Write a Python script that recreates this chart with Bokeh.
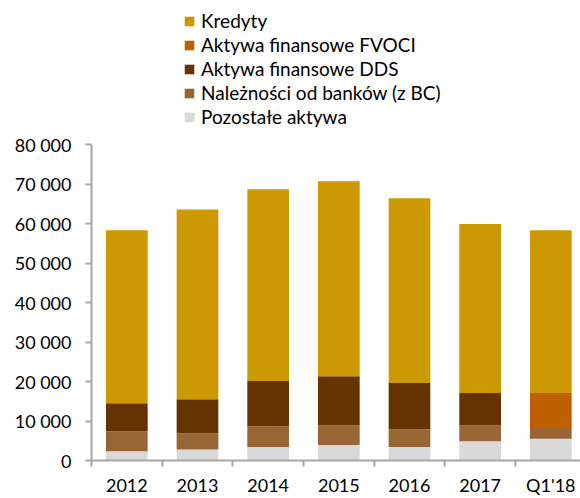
from bokeh.plotting import figure
from bokeh.models import ColumnDataSource, FixedTicker, Legend, LegendItem, Range1d
from bokeh.embed import file_html
from bokeh.resources import INLINE

years = ["2012", "2013", "2014", "2015", "2016", "2017", "Q1'18"]
pozostale = [2350, 2800, 3400, 3900, 3400, 4900, 5500]
naleznosci = [5050, 4100, 5300, 5000, 4500, 4000, 3000]
dds = [7100, 8600, 11400, 12400, 11700, 8200, 0]
fvoci = [0, 0, 0, 0, 0, 0, 8600]
kredyty = [43800, 48050, 48600, 49400, 46800, 42750, 41200]

series_names = ["Pozostałe aktywa", "Należności od banków (z BC)", "Aktywa finansowe DDS",
                "Aktywa finansowe FVOCI", "Kredyty"]
series_colors = ["#D9D9D9", "#996633", "#663300", "#BF5F00", "#CC9900"]

y_ticks = [0, 10000, 20000, 30000, 40000, 50000, 60000, 70000, 80000]
y_tick_labels = ["0", "10 000", "20 000", "30 000", "40 000", "50 000", "60 000", "70 000", "80 000"]

x_idx = list(range(len(years)))
src = ColumnDataSource(dict(x=x_idx, poz=pozostale, nal=naleznosci, dds=dds, fvoci=fvoci, kre=kredyty))

FONT = "Lato"
AX = "#A6A6A6"

# frame spans full height; the y axis is bounded to 0..80 000, legend sits above it
FRAME_BOTTOM = 460
AXIS_TOP = 144
y_end = 80000 * FRAME_BOTTOM / (FRAME_BOTTOM - AXIS_TOP)

p = figure(width=580, height=498, output_backend="svg", toolbar_location=None,
           x_range=Range1d(-0.5, 6.42), y_range=Range1d(0, y_end),
           min_border_left=91, min_border_right=0, min_border_top=0, min_border_bottom=38)
p.outline_line_color = None
p.xgrid.grid_line_color = None
p.ygrid.grid_line_color = None

rs = p.vbar_stack(["poz", "nal", "dds", "fvoci", "kre"], x="x", width=0.59,
                  color=series_colors, line_color=None, source=src)

# y axis
p.yaxis.bounds = (0, 80000)
p.yaxis.ticker = FixedTicker(ticks=y_ticks)
p.yaxis.major_label_overrides = {t: l for t, l in zip(y_ticks, y_tick_labels)}
p.yaxis.axis_line_color = AX
p.yaxis.axis_line_width = 2
p.yaxis.major_tick_line_color = AX
p.yaxis.major_tick_line_width = 2
p.yaxis.major_tick_out = 6
p.yaxis.major_tick_in = 0
p.yaxis.minor_tick_line_color = None
p.yaxis.major_label_standoff = 14
p.yaxis.major_label_text_font = FONT
p.yaxis.major_label_text_font_size = "18px"
p.yaxis.major_label_text_color = "#000000"

# x axis
p.xaxis.ticker = FixedTicker(ticks=x_idx, minor_ticks=[i - 0.5 for i in x_idx])
p.xaxis.major_label_overrides = {i: y for i, y in zip(x_idx, years)}
p.xaxis.axis_line_color = AX
p.xaxis.axis_line_width = 2
p.xaxis.major_tick_line_color = None
p.xaxis.major_tick_out = 0
p.xaxis.major_tick_in = 0
p.xaxis.minor_tick_line_color = AX
p.xaxis.minor_tick_line_width = 2
p.xaxis.minor_tick_out = 6
p.xaxis.minor_tick_in = 0
p.xaxis.major_label_standoff = 7
p.xaxis.major_label_text_font = FONT
p.xaxis.major_label_text_font_size = "18px"
p.xaxis.major_label_text_color = "#000000"

items = [LegendItem(label=series_names[i], renderers=[rs[i]]) for i in [4, 3, 2, 1, 0]]
legend = Legend(items=items, orientation="vertical", location=(92, FRAME_BOTTOM - 128),
                label_text_font=FONT, label_text_font_size="19px", label_text_color="#000000",
                glyph_width=12, glyph_height=12, label_height=20, spacing=1,
                label_standoff=6, padding=0, margin=0,
                border_line_color=None, background_fill_alpha=0)
p.add_layout(legend, "center")

open("out.html", "w").write(file_html(p, INLINE))
